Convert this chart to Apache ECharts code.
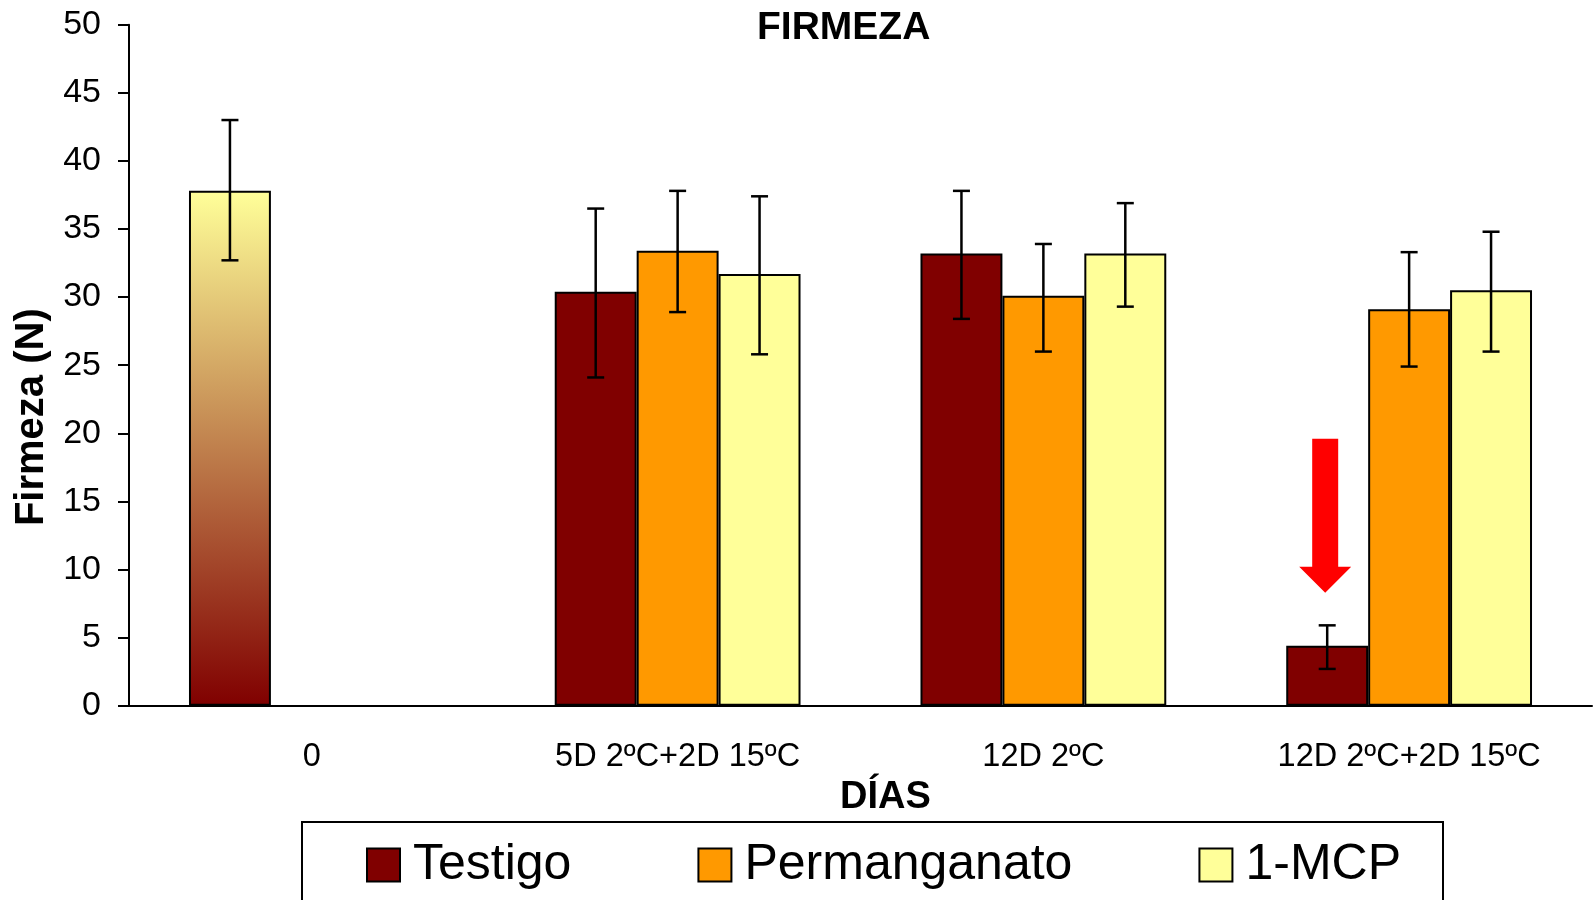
<!DOCTYPE html>
<html>
<head>
<meta charset="utf-8">
<title>Firmeza</title>
<script src="https://cdn.jsdelivr.net/npm/echarts@6/dist/echarts.min.js"></script>
<style>
  html, body { margin: 0; padding: 0; background: #fff; }
  #chart { width: 1595px; height: 900px; }
</style>
</head>
<body>
<div id="chart"></div>
<script>
// días de conservación
var categories = ['0', '5D 2ºC+2D 15ºC', '12D 2ºC', '12D 2ºC+2D 15ºC'];
var seriesNames = ['Testigo', 'Permanganato', '1-MCP'];

// firmeza media (N)
var testigo = [37.8, 30.4, 33.2, 4.4];
var permanganato = [null, 33.4, 30.1, 29.1];
var mcp = [null, 31.7, 33.2, 30.5];

// barras de error (min / max)
var testigoLow = [32.7, 24.1, 28.4, 2.7];
var testigoHigh = [43.0, 36.5, 37.8, 5.9];
var permanganatoLow = [null, 28.9, 26.0, 24.9];
var permanganatoHigh = [null, 37.8, 33.9, 33.3];
var mcpLow = [null, 25.8, 29.3, 26.0];
var mcpHigh = [null, 37.4, 36.9, 34.8];

// flecha roja sobre Testigo en la ultima fecha
var arrowCategory = 3;
var arrowTop = 19.6;
var arrowHeadBase = 10.2;
var arrowTip = 8.3;

var colors = ['#800000', '#FF9900', '#FFFF99'];
var font = '"Liberation Sans", Arial, sans-serif';
var barFrac = 0.224; // ancho de barra / ancho de categoria

function errorData(low, high, slot) {
  var out = [];
  for (var i = 0; i < categories.length; i++) {
    if (low[i] != null) out.push([i, low[i], high[i], slot]);
  }
  return out;
}
var errData = []
  .concat(errorData(testigoLow, testigoHigh, 0))
  .concat(errorData(permanganatoLow, permanganatoHigh, 1))
  .concat(errorData(mcpLow, mcpHigh, 2));

// primer dato de Testigo con degradado
var testigoData = testigo.map(function (v, i) {
  if (i === 0) {
    return {
      value: v,
      itemStyle: {
        color: new echarts.graphic.LinearGradient(0, 0, 0, 1, [
          { offset: 0, color: '#FFFF99' },
          { offset: 1, color: '#800000' }
        ])
      }
    };
  }
  return v;
});

var chart = echarts.init(document.getElementById('chart'));

function renderError(params, api) {
  var band = api.size([1, 0])[0];
  var bw = band * barFrac;
  var slot = api.value(3);
  var lo = api.coord([api.value(0), api.value(1)]);
  var hi = api.coord([api.value(0), api.value(2)]);
  var x = lo[0] + (slot - 1) * bw;
  var cap = 8.5;
  var style = { stroke: '#000', lineWidth: 2.5 };
  return {
    type: 'group',
    children: [
      { type: 'line', shape: { x1: x, y1: lo[1], x2: x, y2: hi[1] }, style: style },
      { type: 'line', shape: { x1: x - cap, y1: hi[1], x2: x + cap, y2: hi[1] }, style: style },
      { type: 'line', shape: { x1: x - cap, y1: lo[1], x2: x + cap, y2: lo[1] }, style: style }
    ]
  };
}

var barBase = {
  type: 'bar',
  barGap: '0%',
  barCategoryGap: ((1 - 3 * barFrac) * 100).toFixed(1) + '%'
};

chart.setOption({
  animation: false,
  textStyle: { fontFamily: font, color: '#000' },
  title: {
    text: 'FIRMEZA',
    left: 752,
    top: 4,
    textStyle: { fontFamily: font, fontSize: 39, fontWeight: 'bold', color: '#000' }
  },
  legend: {
    data: seriesNames,
    left: 361,
    top: 835,
    itemWidth: 33,
    itemHeight: 33,
    itemGap: 126,
    icon: 'rect',
    itemStyle: { borderColor: '#000', borderWidth: 2 },
    textStyle: { fontFamily: font, fontSize: 50, color: '#000', padding: [0, 0, 0, 8] }
  },
  grid: { left: 129, right: 3, top: 24.7, bottom: 194.3 },
  xAxis: {
    type: 'category',
    data: categories,
    name: 'DÍAS',
    nameLocation: 'middle',
    nameGap: 60,
    nameTextStyle: { fontFamily: font, fontSize: 38, fontWeight: 'bold', color: '#000', padding: [0, 0, 0, 50] },
    axisLine: { lineStyle: { color: '#000', width: 2 } },
    axisTick: { alignWithLabel: false, length: 11, lineStyle: { color: '#000', width: 2 } },
    axisLabel: { fontFamily: font, fontSize: 32.5, color: '#000', margin: 35 }
  },
  yAxis: {
    type: 'value',
    min: 0,
    max: 50,
    interval: 5,
    name: 'Firmeza (N)',
    nameLocation: 'middle',
    nameGap: 76,
    nameTextStyle: { fontFamily: font, fontSize: 40, fontWeight: 'bold', color: '#000', padding: [0, 104, 0, 0] },
    axisLine: { show: true, lineStyle: { color: '#000', width: 2 } },
    axisTick: { show: true, length: 11, lineStyle: { color: '#000', width: 2 } },
    axisLabel: { fontFamily: font, fontSize: 34, color: '#000', margin: 28 },
    splitLine: { show: false }
  },
  series: [
    Object.assign({}, barBase, { name: seriesNames[0], data: testigoData, itemStyle: { color: colors[0], borderColor: '#000', borderWidth: 2 } }),
    Object.assign({}, barBase, { name: seriesNames[1], data: permanganato, itemStyle: { color: colors[1], borderColor: '#000', borderWidth: 2 } }),
    Object.assign({}, barBase, { name: seriesNames[2], data: mcp, itemStyle: { color: colors[2], borderColor: '#000', borderWidth: 2 } }),
    {
      type: 'custom',
      name: 'error',
      renderItem: renderError,
      data: errData,
      encode: { x: 0, y: [1, 2] },
      z: 10
    }
  ]
});

// flecha y marco de la leyenda
var c = chart.convertToPixel({ xAxisIndex: 0, yAxisIndex: 0 }, [arrowCategory, arrowTop]);
var band = chart.convertToPixel({ xAxisIndex: 0 }, 1) - chart.convertToPixel({ xAxisIndex: 0 }, 0);
var ax = c[0] - band * barFrac - 2;
var yTop = c[1];
var yBase = chart.convertToPixel({ yAxisIndex: 0 }, arrowHeadBase);
var yTip = chart.convertToPixel({ yAxisIndex: 0 }, arrowTip);
chart.setOption({
  graphic: [
    {
      type: 'polygon',
      shape: {
        points: [
          [ax - 13, yTop], [ax + 13, yTop], [ax + 13, yBase], [ax + 26, yBase],
          [ax, yTip], [ax - 26, yBase], [ax - 13, yBase]
        ]
      },
      style: { fill: '#FF0000' },
      z: 100
    },
    {
      type: 'rect',
      shape: { x: 302, y: 822, width: 1141, height: 120 },
      style: { fill: 'none', stroke: '#000', lineWidth: 2 },
      z: 0
    }
  ]
});
</script>
</body>
</html>
